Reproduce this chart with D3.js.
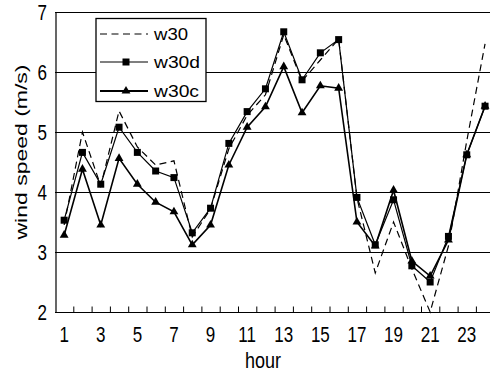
<!DOCTYPE html>
<html>
<head>
<meta charset="utf-8">
<script src="https://cdn.jsdelivr.net/npm/d3@7"></script>
<style>
  html, body { margin: 0; padding: 0; background: #fff; }
  svg { display: block; font-family: "Liberation Sans", Arial, sans-serif; }
</style>
</head>
<body>
<div id="chart"></div>
<script>
const hours = d3.range(1, 25);
const w30  = [3.45, 5.0, 4.1, 5.35, 4.75, 4.45, 4.52, 3.25, 3.72, 4.72, 5.28, 5.62, 6.62, 5.85, 6.2, 6.55, 3.9, 2.65, 3.5, 2.72, 2.0, 3.1, 4.85, 6.47];
const w30d = [3.53, 4.66, 4.13, 5.08, 4.66, 4.35, 4.24, 3.32, 3.73, 4.81, 5.34, 5.72, 6.67, 5.87, 6.32, 6.54, 3.91, 3.12, 3.87, 2.77, 2.5, 3.26, 4.62, 5.43];
const w30c = [3.28, 4.38, 3.45, 4.56, 4.13, 3.83, 3.67, 3.12, 3.45, 4.45, 5.08, 5.42, 6.09, 5.32, 5.77, 5.73, 3.5, 3.1, 4.03, 2.85, 2.6, 3.2, 4.62, 5.43];
const yTicks = [2, 3, 4, 5, 6, 7];
const xTickLabels = [1, 3, 5, 7, 9, 11, 13, 15, 17, 19, 21, 23];
const seriesNames = ["w30", "w30d", "w30c"];

const W = 490, H = 372;
const svg = d3.select("#chart").append("svg").attr("width", W).attr("height", H);

const x = d3.scaleLinear().domain([0.5, 24.5]).range([55, 494.2]);
const y = d3.scaleLinear().domain([2, 7]).range([312, 12]);

// gridlines
svg.append("g").selectAll("line").data(yTicks.filter(v => v > 2)).join("line")
  .attr("x1", x(0.5)).attr("x2", W)
  .attr("y1", d => y(d) + 0.5).attr("y2", d => y(d) + 0.5)
  .attr("stroke", "#000").attr("stroke-width", 1);

// bottom axis (ticks at band boundaries pointing up)
const xAxis = d3.axisBottom(x)
  .tickValues(d3.range(1.5, 24.5, 1))
  .tickSize(-6).tickSizeOuter(0).tickFormat("");
const gx = svg.append("g").attr("transform", `translate(0,${y(2) + 0.5})`).call(xAxis);
gx.select(".domain").attr("stroke", "#000").attr("stroke-width", 1.2).attr("d", `M${x(0.5)},0H${W}`);
gx.selectAll(".tick line").attr("stroke", "#000");

// left axis line
const yAxis = d3.axisLeft(y).tickValues(yTicks).tickSize(0).tickFormat("");
const gy = svg.append("g").attr("transform", `translate(${x(0.5) + 0.5},0)`).call(yAxis);
gy.select(".domain").attr("stroke", "#000").attr("stroke-width", 1.2);

// y tick labels (vertically stretched)
svg.append("g").selectAll("g").data(yTicks).join("g")
  .attr("transform", d => `translate(47,${y(d)}) scale(1,1.25)`)
  .append("text").attr("y", 6.1).attr("text-anchor", "end")
  .attr("font-size", 17).attr("fill", "#000").text(d => d);

// x tick labels
svg.append("g").selectAll("g").data(xTickLabels).join("g")
  .attr("transform", d => `translate(${x(d)},342) scale(1,1.25)`)
  .append("text").attr("text-anchor", "middle")
  .attr("font-size", 17).attr("fill", "#000").text(d => d);

// axis titles
svg.append("g").attr("transform", "translate(263,368) scale(1,1.25)")
  .append("text").attr("text-anchor", "middle").attr("font-size", 18).attr("fill", "#000").text("hour");
svg.append("text")
  .attr("transform", "translate(27,152) rotate(-90)")
  .attr("text-anchor", "middle").attr("font-size", 16).attr("fill", "#000")
  .attr("textLength", 175).attr("lengthAdjust", "spacingAndGlyphs")
  .text("wind speed (m/s)");

const line = d3.line().x((d, i) => x(hours[i])).y(d => y(d));

const styles = {
  w30:  { data: w30,  width: 1.2, dash: "7,4.5", marker: null },
  w30d: { data: w30d, width: 1.2, dash: null, marker: "square" },
  w30c: { data: w30c, width: 1.6, dash: null, marker: "triangle" }
};

const sq = d3.symbol().type(d3.symbolSquare).size(49);
const tri = d3.symbol().type(d3.symbolTriangle).size(34);

["w30c", "w30d", "w30"].forEach(name => {
  const s = styles[name];
  svg.append("path").datum(s.data)
    .attr("d", line).attr("fill", "none").attr("stroke", "#000")
    .attr("stroke-width", s.width).attr("stroke-linejoin", "miter")
    .attr("stroke-dasharray", s.dash);
  if (s.marker) {
    svg.append("g").selectAll("path").data(s.data).join("path")
      .attr("transform", (d, i) => `translate(${x(hours[i])},${y(d)})`)
      .attr("d", s.marker === "square" ? sq : tri)
      .attr("fill", "#000");
  }
});

// legend
const lg = svg.append("g");
lg.append("rect").attr("x", 96).attr("y", 18.5).attr("width", 110).attr("height", 83)
  .attr("fill", "#fff").attr("stroke", "#000").attr("stroke-width", 1.3);
const rowsY = [34, 62, 91];
const textLens = [34, 46, 45];
seriesNames.forEach((name, i) => {
  const s = styles[name];
  const ry = rowsY[i];
  lg.append("line").attr("x1", 100).attr("x2", 148).attr("y1", ry).attr("y2", ry)
    .attr("stroke", "#000").attr("stroke-width", name === "w30c" ? 2 : 1.2)
    .attr("stroke-dasharray", s.dash);
  if (s.marker) {
    lg.append("path").attr("transform", `translate(126,${ry})`)
      .attr("d", s.marker === "square" ? sq : tri).attr("fill", "#000");
  }
  lg.append("text").attr("x", 154).attr("y", ry + 6)
    .attr("font-size", 16).attr("fill", "#000")
    .attr("textLength", textLens[i]).attr("lengthAdjust", "spacingAndGlyphs")
    .text(name);
});
</script>
</body>
</html>
